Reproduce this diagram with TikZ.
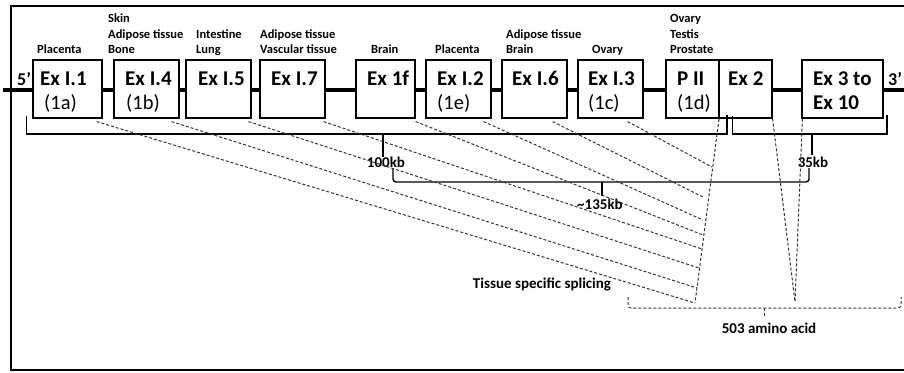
\documentclass[tikz,border=0pt]{standalone}
\usepackage{fontspec}
\setmainfont{Carlito}
\usetikzlibrary{calc}
\begin{document}
\begin{tikzpicture}[x=1pt,y=-1pt,
  exbox/.style={draw, line width=1.2pt, fill=white, minimum height=58pt, inner sep=0, anchor=center},
  extext/.style={anchor=base west, inner sep=0, font=\fontsize{21}{24}\selectfont\bfseries},
  subtext/.style={anchor=base west, inner sep=0, font=\fontsize{20.5}{24}\selectfont},
  lab/.style={anchor=base west, inner sep=0, font=\fontsize{12.5}{15}\selectfont\bfseries},
  endlab/.style={anchor=base west, inner sep=0, font=\fontsize{18}{20}\selectfont\bfseries},
  kblab/.style={anchor=base, inner sep=0, font=\fontsize{15}{18}\selectfont\bfseries},
  splice/.style={draw=black!80, line width=1pt, dash pattern=on 3pt off 2pt},
  brace/.style={draw, line width=1.4pt}
]
\useasboundingbox (0,0) rectangle (904,372);
% frame
\draw[line width=2.2pt] (904,6) -- (11,6) -- (11,370) -- (904,370);
% backbone
\coordinate (bbL) at (3,90);
\coordinate (bbR) at (904,90);
\draw[line width=3.2pt] (bbL) -- (bbR);
% boxes
\node[exbox, minimum width=69pt] (b1) at (67.5,89) {};
\node[exbox, minimum width=65pt] (b4) at (146.5,89) {};
\node[exbox, minimum width=65pt] (b5) at (218.5,89) {};
\node[exbox, minimum width=65pt] (b7) at (292.5,89) {};
\node[exbox, minimum width=59pt] (bf) at (385.5,89) {};
\node[exbox, minimum width=65pt] (b2) at (458.5,89) {};
\node[exbox, minimum width=65pt] (b6) at (534.5,89) {};
\node[exbox, minimum width=65pt] (b3) at (610.5,89) {};
\node[exbox, minimum width=53pt] (p2) at (692.5,89) {};
\node[exbox, minimum width=53pt] (e2) at (745.5,89) {};
\node[exbox, minimum width=81pt] (e3) at (842.5,89) {};
% box texts
\node[extext] (t1) at (40,85) {Ex I.1};
\node[subtext] (s1) at (44,109) {(1a)};
\node[extext] (t4) at (125,85) {Ex I.4};
\node[subtext] (s4) at (126,109) {(1b)};
\node[extext] (t5) at (198,85) {Ex I.5};
\node[extext] (t7) at (271,85) {Ex I.7};
\node[extext] (tf) at (367,85) {Ex 1f};
\node[extext] (t2) at (437,85) {Ex I.2};
\node[subtext] (s2) at (437,109) {(1e)};
\node[extext] (t6) at (512,85) {Ex I.6};
\node[extext] (t3) at (588,85) {Ex I.3};
\node[subtext] (s3) at (588,109) {(1c)};
\node[extext] (tp) at (677,85) {P II};
\node[subtext] (sp) at (677,109) {(1d)};
\node[extext] (te2) at (728,85) {Ex 2};
\node[extext] (te3a) at (813,85) {Ex 3 to};
\node[extext] (te3b) at (813,109) {Ex 10};
% ends
\node[endlab] (five) at (17,85) {5'};
\node[endlab] (three) at (888,85) {3'};
% tissue labels
\node[lab] (l1) at (37,53) {Placenta};
\node[lab] (l4a) at (108,23) {Skin};
\node[lab] (l4b) at (108,38) {Adipose tissue};
\node[lab] (l4c) at (108,53) {Bone};
\node[lab] (l5a) at (196,38) {Intestine};
\node[lab] (l5b) at (196,53) {Lung};
\node[lab] (l7a) at (260,38) {Adipose tissue};
\node[lab] (l7b) at (260,53) {Vascular tissue};
\node[lab] (lf) at (371,53) {Brain};
\node[lab] (l2) at (435,53) {Placenta};
\node[lab] (l6a) at (506,38) {Adipose tissue};
\node[lab] (l6b) at (506,53) {Brain};
\node[lab] (l3) at (592,53) {Ovary};
\node[lab] (lpa) at (670,23) {Ovary};
\node[lab] (lpb) at (670,38) {Testis};
\node[lab] (lpc) at (670,53) {Prostate};
% brackets
\draw[brace] ($(b1.south west)+(-6,-3)$) |- (727,134) coordinate (br1R) -- ++(0,-19);
\draw[brace] ($(e2.south west)+(14,-3)$) |- (887,134) coordinate (br2R) -- ++(0,-19);
\coordinate (k100) at (383,134);
\coordinate (k35) at (812,134);
\draw[brace] (k100) -- ++(0,23);
\draw[brace] (k35) -- ++(0,21);
\node[kblab] (kb100) at (386,167) {100kb};
\node[kblab] (kb35) at (813,167) {35kb};
\draw[brace, rounded corners=3pt] (393,168) -- (393,182) -- (809,182) -- (809,168);
\coordinate (k135) at (602,182);
\draw[brace] (k135) -- ++(0,14);
\node[kblab] (kb135) at (600,209) {\textasciitilde135kb};
% splicing lines
\coordinate (cvTop) at (719,119);
\coordinate (cvBot) at (695,303);
\draw[splice] (cvTop) -- (cvBot);
\draw[splice] ($(b1.south east)+(-6,3)$) -- (695,303);
\draw[splice] ($(b4.south east)+(-8,3)$) -- (697,288);
\draw[splice] ($(b5.south east)+(-3,3)$) -- (699,268);
\draw[splice] ($(b7.south east)+(-2,3)$) -- (702,249);
\draw[splice] ($(bf.south east)+(0,3)$) -- (703,235);
\draw[splice] ($(b2.south east)+(-8,3)$) -- (703,220);
\draw[splice] ($(b6.south east)+(-15,3)$) -- (703,197);
\draw[splice] ($(b3.south east)+(-16,3)$) -- (712,167);
\node[kblab] (tss) at (542,288) {Tissue specific splicing};
% 503 amino acid
\coordinate (aa) at (795,302);
\draw[splice] (e2.south east) -- (aa);
\draw[splice] ($(e3.south west)+(1,0)$) -- (aa);
\draw[splice, rounded corners=3pt] (628,297) -- (628,308) -- (901,308) -- (901,297);
\coordinate (kaa) at (764,308);
\draw[splice] (kaa) -- ++(0,10);
\node[kblab] (aalab) at (769,333) {503 amino acid};
\end{tikzpicture}
\end{document}
